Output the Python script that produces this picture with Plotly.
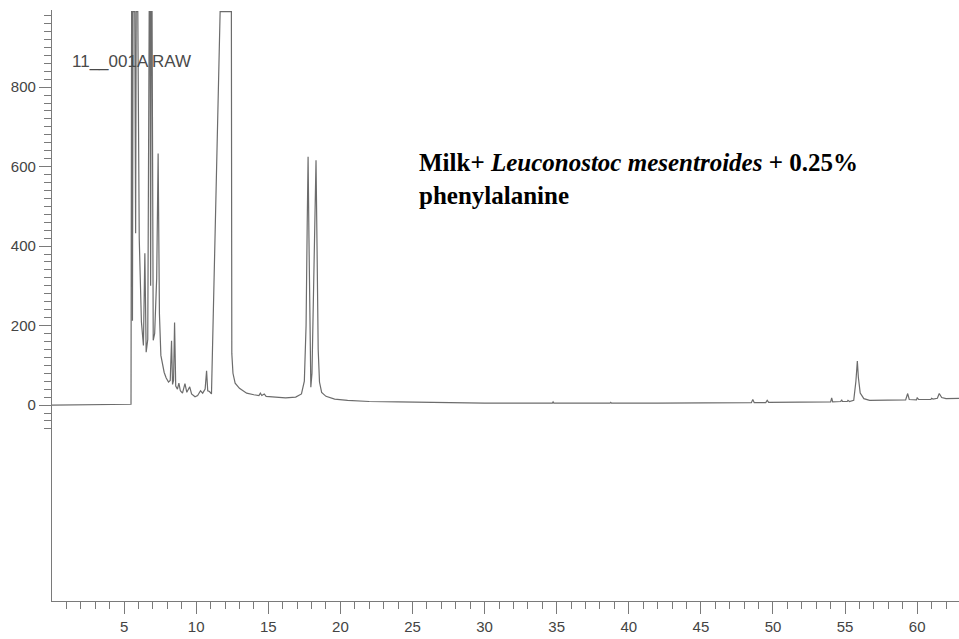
import plotly.graph_objects as go

# Chromatogram trace: retention time (min) and detector signal.
# Peaks that hit the recorder limit are stored at the saturation level (990).
retention_min = [
    0.0, 5.48, 5.52, 5.55, 5.58, 5.62, 5.74, 5.80, 5.84, 5.95,
    6.05, 6.20, 6.34, 6.44, 6.53, 6.64, 6.74, 6.80, 6.84, 6.88,
    6.94, 7.02, 7.12, 7.26, 7.36, 7.45, 7.55, 7.66, 7.78, 7.92,
    8.08, 8.20, 8.29, 8.36, 8.43, 8.50, 8.58, 8.70, 8.80, 8.90,
    9.05, 9.22, 9.35, 9.55, 9.68, 9.92, 10.10, 10.30, 10.45, 10.62,
    10.72, 10.80, 10.92, 11.06, 11.66, 12.44, 12.47, 12.55, 12.70, 13.00,
    13.50, 14.00, 14.35, 14.45, 14.55, 14.72, 14.85, 15.50, 16.20, 16.90,
    17.30, 17.50, 17.62, 17.70, 17.76, 17.82, 17.88, 17.95, 18.03, 18.14,
    18.24, 18.31, 18.38, 18.46, 18.55, 18.70, 19.00, 19.60, 20.50, 22.00,
    24.00, 27.00, 30.00, 34.70, 34.75, 34.80, 38.70, 38.75, 38.80, 42.00,
    45.00, 48.50, 48.60, 48.70, 49.50, 49.60, 49.70, 52.00, 54.00, 54.07,
    54.14, 54.70, 54.76, 54.82, 55.15, 55.20, 55.30, 55.60, 55.75, 55.85,
    55.92, 56.05, 56.30, 56.70, 58.00, 59.20, 59.34, 59.45, 59.95, 60.00,
    60.10, 60.95, 61.00, 61.10, 61.40, 61.53, 61.70, 62.00, 62.90,
]
signal = [
    0, 2, 990, 990, 212, 990, 990, 432, 990, 990,
    420, 210, 150, 382, 133, 165, 990, 990, 300, 990,
    990, 163, 180, 320, 633, 230, 125, 100, 82, 68,
    58, 62, 162, 52, 62, 208, 48, 40, 55, 36,
    30, 54, 32, 46, 28, 21, 24, 36, 30, 40,
    86, 36, 34, 28, 990, 990, 130, 80, 55, 42,
    30, 26, 24, 30, 24, 28, 22, 20, 18, 20,
    28, 60, 200, 460, 625, 420, 150, 45, 80, 260,
    500, 616, 400, 140, 58, 32, 22, 15, 12, 9,
    8, 6, 5, 5, 8, 5, 5, 7, 5, 5,
    5, 6, 14, 6, 6, 12, 7, 7, 8, 18,
    8, 9, 13, 9, 9, 12, 9, 12, 60, 111,
    70, 30, 16, 12, 12, 13, 29, 14, 13, 18,
    14, 14, 17, 15, 17, 29, 19, 16, 17,
]

x_major_ticks = [5, 10, 15, 20, 25, 30, 35, 40, 45, 50, 55, 60]
x_minor_ticks = list(range(1, 63))
y_major_ticks = [0, 200, 400, 600, 800]
y_minor_ticks = list(range(-60, 1000, 20))

run_label = "11__001A RAW"
sample_line1 = "<b>Milk+ </b><b><i>Leuconostoc mesentroides</i></b><b> + 0.25%</b>"
sample_line2 = "<b>phenylalanine</b>"

axis_grey = "#7a7a7a"
trace_grey = "#6c6c6c"
label_font = dict(family="Liberation Sans, Arial, sans-serif", size=15, color="#444444")

fig = go.Figure(
    go.Scatter(
        x=retention_min,
        y=signal,
        mode="lines",
        line=dict(color=trace_grey, width=1.2),
        hoverinfo="skip",
    )
)

fig.update_layout(
    width=959,
    height=639,
    margin=dict(l=52, r=0, t=10, b=38),
    paper_bgcolor="white",
    plot_bgcolor="white",
    showlegend=False,
)

fig.update_xaxes(
    range=[0, 62.9],
    showgrid=False,
    zeroline=False,
    showline=True,
    linecolor=axis_grey,
    linewidth=1.2,
    ticks="outside",
    tickmode="array",
    tickvals=x_major_ticks,
    ticklen=12,
    tickwidth=1,
    tickcolor=axis_grey,
    tickfont=label_font,
    minor=dict(
        tickmode="array",
        tickvals=x_minor_ticks,
        ticks="outside",
        ticklen=7,
        tickwidth=1,
        tickcolor=axis_grey,
        showgrid=False,
    ),
)

fig.update_yaxes(
    range=[-493, 994],
    showgrid=False,
    zeroline=False,
    showline=True,
    linecolor=axis_grey,
    linewidth=1.2,
    ticks="outside",
    tickmode="array",
    tickvals=y_major_ticks,
    ticklen=12,
    tickwidth=1,
    tickcolor=axis_grey,
    tickfont=label_font,
    minor=dict(
        tickmode="array",
        tickvals=y_minor_ticks,
        ticks="outside",
        ticklen=7,
        tickwidth=1,
        tickcolor=axis_grey,
        showgrid=False,
    ),
)

fig.add_annotation(
    text=run_label,
    xref="paper", yref="paper",
    x=(70 - 52) / 907, y=1 - (61 - 10) / 591,
    xanchor="left", yanchor="middle",
    showarrow=False,
    font=dict(family="Liberation Sans, Arial, sans-serif", size=17, color="#4a4a4a"),
)

fig.add_annotation(
    text=sample_line1 + "<br>" + sample_line2,
    xref="paper", yref="paper",
    x=(417 - 52) / 907, y=1 - (147 - 10) / 591,
    xanchor="left", yanchor="top", align="left",
    showarrow=False,
    font=dict(family="Liberation Serif, Times New Roman, serif", size=25, color="#000000"),
)

fig.write_html("out.html")
